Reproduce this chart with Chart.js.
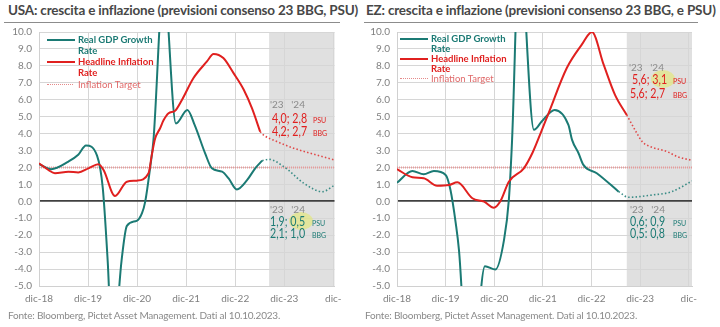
<!DOCTYPE html>
<html>
<head>
<meta charset="utf-8">
<script src="https://cdn.jsdelivr.net/npm/chart.js@4.4.0/dist/chart.umd.min.js"></script>
<style>
  body { margin: 0; background: #fff; font-family: Lato, 'Open Sans', sans-serif; }
  #page { position: relative; width: 720px; height: 327px; overflow: hidden; }
  .panel { position: absolute; top: 0; width: 360px; height: 327px; }
  .panel canvas { position: absolute; left: 0; top: 0; }
  .t { position: absolute; white-space: nowrap; transform: translateY(-50%); line-height: 1; }
  .title { font-size: 13.5px; font-weight: 700; color: #474747; letter-spacing: -0.2px; }
  .rule { position: absolute; height: 0; border-top: 1.5px solid #8c8c8c; }
  .src { font-size: 10px; color: #8a8a8a; letter-spacing: -0.2px; }
  .lg { font-size: 9.5px; font-weight: 700; }
  .lgn { font-size: 9.5px; }
  .sample { position: absolute; height: 0; }
  .yr { font-size: 10px; color: #8a8a8a; }
  .val { font-size: 13px; transform: translateY(-50%) scaleX(0.82); transform-origin: left center; }
  .tag { font-size: 7px; }
  .hl { position: absolute; border-radius: 50%; background: rgba(226, 232, 110, 0.6); }
</style>
</head>
<body>
<div id="page">
  <div class="t title" style="left:8px;top:11px;">USA: crescita e inflazione (previsioni consenso 23 BBG, PSU)</div>
  <div class="rule" style="left:4px;top:22px;width:336px;"></div>
  <div class="t title" style="left:366px;top:11px;">EZ: crescita e inflazione (previsioni consenso 23 BBG, e PSU)</div>
  <div class="rule" style="left:364px;top:22px;width:334px;"></div>

  <div class="panel" style="left:0;"><canvas id="usChart" width="360" height="327"></canvas></div>
  <div class="panel" style="left:358px;"><canvas id="ezChart" width="360" height="327"></canvas></div>

  <!-- legends -->
  <div class="sample" style="left:47px;top:39px;width:28px;border-top:2px solid #1b7a74;"></div>
  <div class="t lg" style="left:78px;top:40px;color:#1b7a74;">Real GDP Growth</div>
  <div class="t lg" style="left:78px;top:51px;color:#1b7a74;">Rate</div>
  <div class="sample" style="left:47px;top:61px;width:28px;border-top:2px solid #e0201f;"></div>
  <div class="t lg" style="left:78px;top:62px;color:#e0201f;">Headline Inflation</div>
  <div class="t lg" style="left:78px;top:73px;color:#e0201f;">Rate</div>
  <div class="sample" style="left:47px;top:84px;width:26px;border-top:1.5px dotted #e58a8a;"></div>
  <div class="t lgn" style="left:78px;top:85px;color:#e06a6a;">Inflation Target</div>

  <div class="sample" style="left:400px;top:38px;width:28px;border-top:2px solid #1b7a74;"></div>
  <div class="t lg" style="left:431px;top:39px;color:#1b7a74;">Real GDP Growth</div>
  <div class="t lg" style="left:431px;top:49px;color:#1b7a74;">Rate</div>
  <div class="sample" style="left:400px;top:58px;width:28px;border-top:2px solid #e0201f;"></div>
  <div class="t lg" style="left:431px;top:59px;color:#e0201f;">Headline Inflation</div>
  <div class="t lg" style="left:431px;top:69px;color:#e0201f;">Rate</div>
  <div class="sample" style="left:400px;top:78px;width:28px;border-top:1.5px dotted #e58a8a;"></div>
  <div class="t lgn" style="left:431px;top:79px;color:#e06a6a;">Inflation Target</div>

  <!-- USA annotations -->
  <div class="t yr" style="left:270px;top:104px;">'23&nbsp;&nbsp;&nbsp;'24</div>
  <div class="t val" style="left:272px;top:118px;color:#e0201f;">4,0; 2,8</div>
  <div class="t tag" style="left:313px;top:120px;color:#e0201f;">PSU</div>
  <div class="t val" style="left:272px;top:131px;color:#e0201f;">4,2; 2,7</div>
  <div class="t tag" style="left:313px;top:133px;color:#e0201f;">BBG</div>
  <div class="hl" style="left:289px;top:212px;width:24px;height:18px;"></div>
  <div class="t yr" style="left:270px;top:209px;">'23&nbsp;&nbsp;&nbsp;'24</div>
  <div class="t val" style="left:270px;top:221px;color:#1b7a74;">1,9; 0,5</div>
  <div class="t tag" style="left:312px;top:223px;color:#1b7a74;">PSU</div>
  <div class="t val" style="left:270px;top:233px;color:#1b7a74;">2,1; 1,0</div>
  <div class="t tag" style="left:312px;top:235px;color:#1b7a74;">BBG</div>

  <!-- EZ annotations -->
  <div class="hl" style="left:651px;top:70px;width:24px;height:18px;"></div>
  <div class="t yr" style="left:629px;top:67px;">'23&nbsp;&nbsp;&nbsp;'24</div>
  <div class="t val" style="left:632px;top:79px;color:#e0201f;">5,6; 3,1</div>
  <div class="t tag" style="left:673px;top:81px;color:#e0201f;">PSU</div>
  <div class="t val" style="left:630px;top:93px;color:#e0201f;">5,6; 2,7</div>
  <div class="t tag" style="left:673px;top:95px;color:#e0201f;">BBG</div>
  <div class="t yr" style="left:630px;top:209px;">'23&nbsp;&nbsp;&nbsp;'24</div>
  <div class="t val" style="left:630px;top:221px;color:#1b7a74;">0,6; 0,9</div>
  <div class="t tag" style="left:673px;top:223px;color:#1b7a74;">PSU</div>
  <div class="t val" style="left:630px;top:233px;color:#1b7a74;">0,5: 0,8</div>
  <div class="t tag" style="left:673px;top:235px;color:#1b7a74;">BBG</div>

  <div class="t src" style="left:8px;top:315px;">Fonte: Bloomberg, Pictet Asset Management. Dati al 10.10.2023.</div>
  <div class="t src" style="left:365px;top:315px;">Fonte: Bloomberg, Pictet Asset Management. Dati al 10.10.2023.</div>
</div>

<script>
// x values are months after Dec 2018
const yearLabels = ['dic-18', 'dic-19', 'dic-20', 'dic-21', 'dic-22', 'dic-23', 'dic-'];
const inflationTarget = 2.0;

// USA
const usGdpMonths = [0, 3, 7.2, 9.6, 11.5, 14.2, 15.6, 16.8, 18, 20.2, 21.5, 23.9, 25.2, 26, 27.2, 28, 30.5, 33.5, 36.3, 38.1, 40.7, 42.3, 44.8, 46.4, 48.4, 50.9, 52.9, 54.6];
const usGdpValues = [2.2, 1.9, 2.35, 2.75, 3.3, 2.7, 0.8, -3.5, -9, -3.5, -1.45, -1.15, -0.7, 0, 2, 3.6, 13, 4.6, 5.4, 4.5, 2.8, 1.95, 1.75, 1.35, 0.7, 1.25, 1.95, 2.4];
const usGdpFcMonths = [54.6, 56.2, 59.9, 64.8, 69.3, 72.3];
const usGdpFcValues = [2.4, 2.48, 2.05, 1.07, 0.57, 0.95];
const usCpiMonths = [0, 2.3, 3.9, 7.2, 9.6, 12.1, 14.5, 15.8, 18.6, 21.5, 23.9, 26.8, 27.6, 28.4, 29.6, 30.5, 31.7, 33.3, 35, 37.8, 41.1, 42.7, 45.1, 47.6, 50.1, 52.1, 54.1];
const usCpiValues = [2.25, 1.85, 1.66, 1.75, 1.71, 1.95, 2.19, 1.85, 0.31, 1.16, 1.22, 1.66, 2.74, 3.7, 4.3, 4.8, 5.2, 5.35, 6.0, 7.28, 8.26, 8.7, 8.46, 7.57, 6.59, 5.5, 4.12];
const usCpiFcMonths = [54.1, 54.9, 58.2, 62.3, 66.4, 72.3];
const usCpiFcValues = [4.12, 3.92, 3.53, 3.14, 2.84, 2.44];
const usForecastStart = 56.3;
const usXMax = 72.3;

// Eurozone
const ezGdpMonths = [0, 3.8, 6.6, 9.1, 12, 13.2, 14.5, 15.3, 18, 21.7, 24.3, 26.4, 27.6, 28.4, 30.2, 33.8, 35.7, 38.9, 42.3, 43.2, 44.8, 46, 49.3, 54.7];
const ezGdpValues = [1.1, 1.79, 1.6, 1.79, 1.56, 0.67, -1.3, -2.9, -12, -3.83, -4.02, -2.29, 0.08, 3.63, 15, 4.22, 4.71, 5.4, 4.51, 3.63, 2.84, 2.15, 1.66, 0.57];
const ezGdpFcMonths = [54.7, 57.1, 62.9, 67.8, 72.8];
const ezGdpFcValues = [0.57, 0.24, 0.37, 0.57, 1.2];
const ezCpiMonths = [0, 3.8, 6.6, 9.9, 12.8, 14.9, 18.6, 21.5, 23.9, 25.5, 27.6, 31.3, 33.5, 35.4, 37.4, 41.9, 45.6, 48.1, 51, 53.8, 56.7];
const ezCpiValues = [1.9, 1.42, 1.36, 0.92, 0.96, 1.12, 0.18, -0.02, -0.38, 0, 1.16, 1.95, 2.9, 4.0, 5.2, 7.87, 9.25, 10.0, 8.07, 6.29, 5.1];
const ezCpiFcMonths = [56.7, 59.2, 60.6, 62.9, 66.6, 69.2, 72.8];
const ezCpiFcValues = [5.1, 4.02, 3.5, 3.2, 2.94, 2.64, 2.42];
const ezForecastStart = 56.7;
const ezXMax = 72.8;

const TEAL = '#1b7a74';
const RED = '#e0201f';

function pts(xs, ys) {
    return xs.map((x, i) => ({ x: x, y: ys[i] }));
}

// grey forecast band, drawn before the grid
const shadePlugin = {
    id: 'shade',
    beforeDraw(chart, args, opts) {
        const { ctx, chartArea, scales } = chart;
        const x0 = scales.x.getPixelForValue(opts.from);
        ctx.save();
        ctx.fillStyle = '#e0e0e0';
        ctx.fillRect(x0, chartArea.top, chartArea.right - x0, chartArea.bottom - chartArea.top);
        ctx.restore();
    }
};

function makeChart(id, p) {
    new Chart(document.getElementById(id), {
        type: 'line',
        data: {
            datasets: [
                { data: pts(p.cpiM, p.cpiV), borderColor: RED, borderWidth: 2 },
                { data: pts(p.gdpM, p.gdpV), borderColor: TEAL, borderWidth: 2 },
                { data: pts(p.cpiFcM, p.cpiFcV), borderColor: '#e04848', borderWidth: 1.6, borderDash: [1.5, 2.2] },
                { data: pts(p.gdpFcM, p.gdpFcV), borderColor: '#3a8c86', borderWidth: 1.6, borderDash: [1.5, 2.2] },
                { data: [{ x: 0, y: inflationTarget }, { x: p.xMax, y: inflationTarget }], borderColor: '#e89a9a', borderWidth: 2, borderDash: [1, 1] }
            ]
        },
        options: {
            responsive: false,
            animation: false,
            devicePixelRatio: 1,
            layout: { padding: { top: 32, bottom: 21, left: 0, right: p.padRight } },
            elements: {
                point: { radius: 0 },
                line: { cubicInterpolationMode: 'monotone', fill: false }
            },
            plugins: {
                legend: { display: false },
                tooltip: { enabled: false },
                shade: { from: p.fcStart }
            },
            scales: {
                x: {
                    type: 'linear',
                    min: 0,
                    max: p.xMax,
                    afterFit: s => { s.height = 20; },
                    grid: { color: '#d6d6d6', drawTicks: false },
                    border: { color: '#d0d0d0' },
                    ticks: {
                        stepSize: 12,
                        includeBounds: false,
                        autoSkip: false,
                        maxRotation: 0,
                        padding: 7,
                        color: '#7f7f7f',
                        font: { family: 'Lato', size: 10 },
                        callback: v => yearLabels[Math.round(v / 12)]
                    }
                },
                y: {
                    min: -5,
                    max: 10,
                    afterFit: s => { s.width = 39; },
                    grid: {
                        drawTicks: false,
                        color: c => c.tick.value === 0 ? '#404040' : '#d6d6d6',
                        lineWidth: c => c.tick.value === 0 ? 1.8 : 1
                    },
                    border: { color: '#d0d0d0' },
                    ticks: {
                        stepSize: 1,
                        padding: 7,
                        color: '#7f7f7f',
                        font: { family: 'Lato', size: 10 },
                        callback: v => v.toFixed(1)
                    }
                }
            }
        },
        plugins: [shadePlugin]
    });
}

makeChart('usChart', {
    gdpM: usGdpMonths, gdpV: usGdpValues, gdpFcM: usGdpFcMonths, gdpFcV: usGdpFcValues,
    cpiM: usCpiMonths, cpiV: usCpiValues, cpiFcM: usCpiFcMonths, cpiFcV: usCpiFcValues,
    fcStart: usForecastStart, xMax: usXMax, padRight: 25.5
});
makeChart('ezChart', {
    gdpM: ezGdpMonths, gdpV: ezGdpValues, gdpFcM: ezGdpFcMonths, gdpFcV: ezGdpFcValues,
    cpiM: ezCpiMonths, cpiV: ezCpiValues, cpiFcM: ezCpiFcMonths, cpiFcV: ezCpiFcValues,
    fcStart: ezForecastStart, xMax: ezXMax, padRight: 26
});
</script>
</body>
</html>
